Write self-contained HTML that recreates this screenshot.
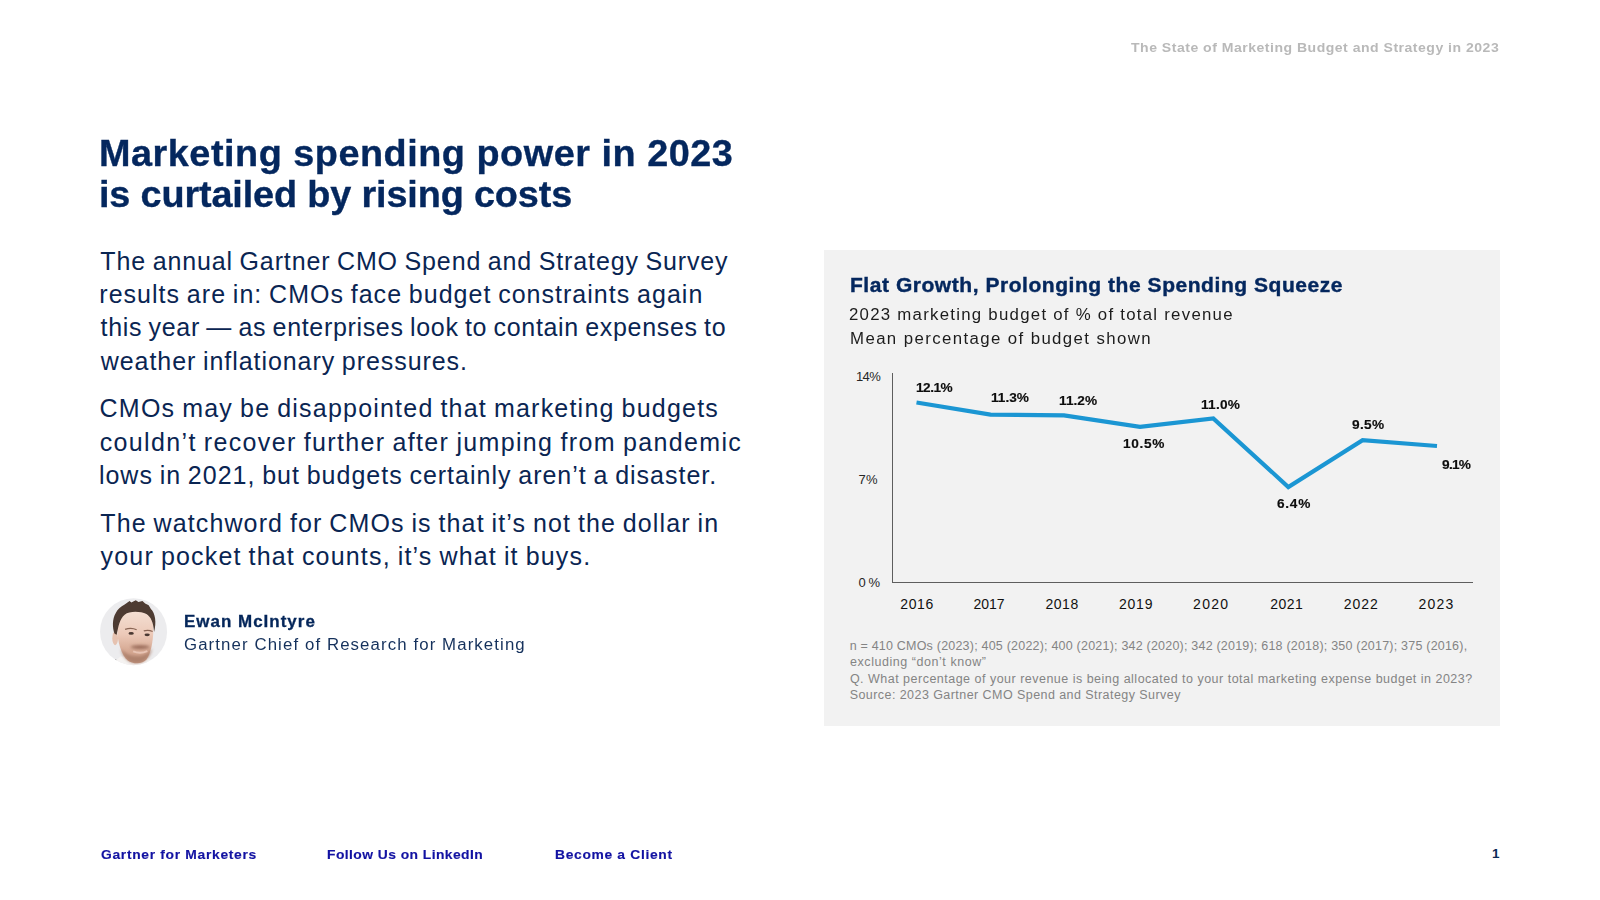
<!DOCTYPE html>
<html lang="en">
<head>
<meta charset="utf-8">
<title>The State of Marketing Budget and Strategy in 2023</title>
<style>
  html, body { margin:0; padding:0; }
  h1, p { margin:0; padding:0; font:inherit; }
  body { width:1600px; height:900px; background:#ffffff; position:relative; overflow:hidden;
         font-family:"Liberation Sans", sans-serif; }
  .t { position:absolute; white-space:nowrap; margin:0; padding:0; }
  .hdr { font-size:13.5px; font-weight:bold; color:#b9b9b9; transform:scaleX(1.04); transform-origin:0 0; }
  .title { font-size:36px; font-weight:bold; color:#04275e; transform:scaleX(1.05); transform-origin:0 0; -webkit-text-stroke:0.35px #04275e; }
  .body { font-size:25px; font-weight:normal; color:#0a2552; word-spacing:-1.2px; }
  .name { font-size:16px; font-weight:bold; color:#04265a; transform:scaleX(1.06); transform-origin:0 0; -webkit-text-stroke:0.3px #04265a; }
  .role { font-size:16px; font-weight:normal; color:#15315c; transform:scaleX(1.05); transform-origin:0 0; }
  .ctitle { font-size:20px; font-weight:bold; color:#04275e; transform:scaleX(1.05); transform-origin:0 0; -webkit-text-stroke:0.4px #04275e; }
  .csub { font-size:16px; font-weight:normal; color:#1c1c1c; transform:scaleX(1.05); transform-origin:0 0; }
  .note { font-size:12.5px; font-weight:normal; color:#848484; }
  .foot { font-size:13.2px; font-weight:bold; color:#1212a2; transform:scaleX(1.05); transform-origin:0 0; -webkit-text-stroke:0.15px #1212a2; }
  .pg { font-size:13.5px; font-weight:bold; color:#0a2a55; }
  .ylab { font-size:13px; font-weight:normal; color:#262626; }
  .xlab { font-size:14px; font-weight:normal; color:#111111; }
  .dlab { font-size:13px; font-weight:bold; color:#0d0d0d; transform:scaleX(1.05); transform-origin:0 0; -webkit-text-stroke:0.15px #0d0d0d; }
  .hdr { line-height:16px; }
  .title { line-height:45px; }
  .body { line-height:30px; }
  .name, .role, .csub { line-height:20px; }
  .ctitle { line-height:25px; }
  .note, .hdr, .pg, .dlab { line-height:16px; }
  .foot, .ylab { line-height:17px; }
  .xlab { line-height:18px; }
  .panel { position:absolute; left:824px; top:250px; width:676px; height:476px; background:#f2f2f2; }
  .chart { position:absolute; left:824px; top:250px; }
  .avatar { position:absolute; left:94px; top:592px; }
</style>
</head>
<body>
<header>
<div id="hdr" class="t hdr" style="left:1131.38px;top:40px;letter-spacing:0.48px">The State of Marketing Budget and Strategy in 2023</div>
</header>

<main>
<section class="copy">
<h1>
<span id="t1" class="t title" style="left:99.28px;top:131px;letter-spacing:0.5px">Marketing spending power in 2023</span>
<span id="t2" class="t title" style="left:99.2px;top:172px;letter-spacing:-0.13px">is curtailed by rising costs</span>
</h1>
<p>
<span id="b1" class="t body" style="left:100.34px;top:246px;letter-spacing:0.87px">The annual Gartner CMO Spend and Strategy Survey</span>
<span id="b2" class="t body" style="left:99.34px;top:279px;letter-spacing:1.02px">results are in: CMOs face budget constraints again</span>
<span id="b3" class="t body" style="left:100.58px;top:312px;letter-spacing:0.67px">this year — as enterprises look to contain expenses to</span>
<span id="b4" class="t body" style="left:100.77px;top:346px;letter-spacing:0.94px">weather inflationary pressures.</span>
</p>
<p>
<span id="b5" class="t body" style="left:99.58px;top:393px;letter-spacing:1.21px">CMOs may be disappointed that marketing budgets</span>
<span id="b6" class="t body" style="left:99.74px;top:427px;letter-spacing:1.35px">couldn’t recover further after jumping from pandemic</span>
<span id="b7" class="t body" style="left:98.92px;top:460px;letter-spacing:1px">lows in 2021, but budgets certainly aren’t a disaster.</span>
</p>
<p>
<span id="b8" class="t body" style="left:100.34px;top:508px;letter-spacing:1.11px">The watchword for CMOs is that it’s not the dollar in</span>
<span id="b9" class="t body" style="left:100.62px;top:541px;letter-spacing:1.18px">your pocket that counts, it’s what it buys.</span>
</p>
<svg class="avatar" width="80" height="80" viewBox="0 0 900 900">
  <defs>
    <clipPath id="avc"><circle cx="445" cy="446" r="377"/></clipPath>
    <filter id="avb" x="-20%" y="-20%" width="140%" height="140%"><feGaussianBlur stdDeviation="8"/></filter>
    <filter id="avh" x="-20%" y="-20%" width="140%" height="140%"><feGaussianBlur stdDeviation="5"/></filter>
    <filter id="avb2" x="-20%" y="-20%" width="140%" height="140%"><feGaussianBlur stdDeviation="16"/></filter>
    <linearGradient id="skin" x1="0" y1="0" x2="0" y2="1">
      <stop offset="0" stop-color="#f4dfd3"/><stop offset="0.45" stop-color="#ecc9b8"/><stop offset="0.8" stop-color="#d3a58f"/><stop offset="1" stop-color="#c79c87"/>
    </linearGradient>
  </defs>
  <circle cx="445" cy="446" r="377" fill="#ececee"/>
  <g clip-path="url(#avc)">
    <g filter="url(#avb)">
      <path d="M235 775 L300 725 L620 745 L650 830 L235 830Z" fill="#f5f3f2"/>
      <ellipse cx="238" cy="520" rx="32" ry="78" fill="#e6c2b0"/>
      <path d="M262 420 C262 280 340 215 470 215 C600 215 672 290 668 430 C664 560 640 690 590 760 C550 812 440 815 380 770 C310 715 262 560 262 420Z" fill="url(#skin)"/>
    </g>
    <g filter="url(#avh)">
      <path d="M232 470 C205 400 205 300 245 235 C262 200 300 160 345 140 L400 100 L420 118 L470 92 L500 112 L545 100 L575 128 L615 150 L640 190 C690 240 705 340 676 450 C668 340 640 280 590 248 C520 215 400 212 345 255 C285 305 275 390 255 480Z" fill="#4d3a30"/>
    </g>
    <g filter="url(#avb2)">
      <path d="M300 640 C330 760 420 810 500 800 C580 790 640 720 655 630 C600 700 560 720 500 720 C420 720 350 700 300 640Z" fill="#a77a66" opacity="0.8"/>
      <ellipse cx="520" cy="620" rx="105" ry="20" fill="#8f5f4f" opacity="0.9"/>
    </g>
    <g filter="url(#avb)">
      <ellipse cx="418" cy="466" rx="30" ry="15" fill="#4a3730"/>
      <ellipse cx="598" cy="482" rx="30" ry="15" fill="#4a3730"/>
      <path d="M350 420 Q420 395 480 425" stroke="#8a6555" stroke-width="14" fill="none"/>
      <path d="M560 438 Q610 420 660 445" stroke="#8a6555" stroke-width="14" fill="none"/>
      <path d="M440 668 Q520 700 600 665" stroke="#e8c4b4" stroke-width="22" fill="none"/>
      <circle cx="243" cy="768" r="9" fill="#222"/>
    </g>
  </g>
</svg>
<div id="name" class="t name" style="left:183.72px;top:612px;letter-spacing:0.95px">Ewan McIntyre</div>
<div id="role" class="t role" style="left:183.8px;top:635px;letter-spacing:1.05px">Gartner Chief of Research for Marketing</div>
</section>

<section class="figure">
<div class="panel"></div>
<div id="ctitle" class="t ctitle" style="left:850.36px;top:273px;letter-spacing:0.52px">Flat Growth, Prolonging the Spending Squeeze</div>
<div id="cs1" class="t csub" style="left:849px;top:305px;letter-spacing:1.2px">2023 marketing budget of % of total revenue</div>
<div id="cs2" class="t csub" style="left:849.71px;top:329px;letter-spacing:1.33px">Mean percentage of budget shown</div>
<svg class="chart" width="676" height="476" viewBox="824 250 676 476">
  <path d="M892.5 373 V582.5 H1473" fill="none" stroke="#5e5e5e" stroke-width="1" shape-rendering="crispEdges"/>
  <polyline points="916.5,402.5 990.5,414.6 1064,415.4 1140,426.8 1213.3,418.4 1288.3,487 1362.6,440.2 1437,446" fill="none" stroke="#1b96d3" stroke-width="4.2" stroke-linejoin="miter"/>
</svg>
<div id="y14" class="t ylab" style="left:855.94px;top:368px;letter-spacing:-0.63px">14%</div>
<div id="y7" class="t ylab" style="left:858.55px;top:471px;letter-spacing:0.32px">7%</div>
<div id="y0" class="t ylab" style="left:858.6px;top:574px;letter-spacing:2.61px">0%</div>
<div id="x16" class="t xlab" style="left:900.36px;top:595px;letter-spacing:0.56px">2016</div>
<div id="x17" class="t xlab" style="left:973.6px;top:595px;letter-spacing:-0.08px">2017</div>
<div id="x18" class="t xlab" style="left:1045.56px;top:595px;letter-spacing:0.49px">2018</div>
<div id="x19" class="t xlab" style="left:1119.08px;top:595px;letter-spacing:0.73px">2019</div>
<div id="x20" class="t xlab" style="left:1193.08px;top:595px;letter-spacing:1.3px">2020</div>
<div id="x21" class="t xlab" style="left:1270.32px;top:595px;letter-spacing:0.42px">2021</div>
<div id="x22" class="t xlab" style="left:1343.68px;top:595px;letter-spacing:0.95px">2022</div>
<div id="x23" class="t xlab" style="left:1418.38px;top:595px;letter-spacing:1.29px">2023</div>
<div id="d1" class="t dlab" style="left:916.21px;top:380px;letter-spacing:-0.48px">12.1%</div>
<div id="d2" class="t dlab" style="left:991.21px;top:390px;letter-spacing:0px">11.3%</div>
<div id="d3" class="t dlab" style="left:1058.79px;top:393px;letter-spacing:0.04px">11.2%</div>
<div id="d4" class="t dlab" style="left:1123.32px;top:436px;letter-spacing:0.62px">10.5%</div>
<div id="d5" class="t dlab" style="left:1201.15px;top:397px;letter-spacing:0.25px">11.0%</div>
<div id="d6" class="t dlab" style="left:1277.21px;top:496px;letter-spacing:0.69px">6.4%</div>
<div id="d7" class="t dlab" style="left:1352.27px;top:417px;letter-spacing:0.3px">9.5%</div>
<div id="d8" class="t dlab" style="left:1441.66px;top:457px;letter-spacing:-0.67px">9.1%</div>
<div id="n1" class="t note" style="left:849.63px;top:638px;letter-spacing:0.21px">n = 410 CMOs (2023); 405 (2022); 400 (2021); 342 (2020); 342 (2019); 618 (2018); 350 (2017); 375 (2016),</div>
<div id="n2" class="t note" style="left:850.04px;top:654px;letter-spacing:0.55px">excluding “don’t know”</div>
<div id="n3" class="t note" style="left:849.88px;top:671px;letter-spacing:0.49px">Q. What percentage of your revenue is being allocated to your total marketing expense budget in 2023?</div>
<div id="n4" class="t note" style="left:849.66px;top:687px;letter-spacing:0.44px">Source: 2023 Gartner CMO Spend and Strategy Survey</div>
</section>
</main>

<footer>
<div id="f1" class="t foot" style="left:100.8px;top:846px;letter-spacing:0.65px">Gartner for Marketers</div>
<div id="f2" class="t foot" style="left:327.36px;top:846px;letter-spacing:0.42px">Follow Us on LinkedIn</div>
<div id="f3" class="t foot" style="left:555.26px;top:846px;letter-spacing:0.63px">Become a Client</div>
<div id="pg" class="t pg" style="left:1492.09px;top:846px;letter-spacing:0px">1</div>
</footer>
</body>
</html>
